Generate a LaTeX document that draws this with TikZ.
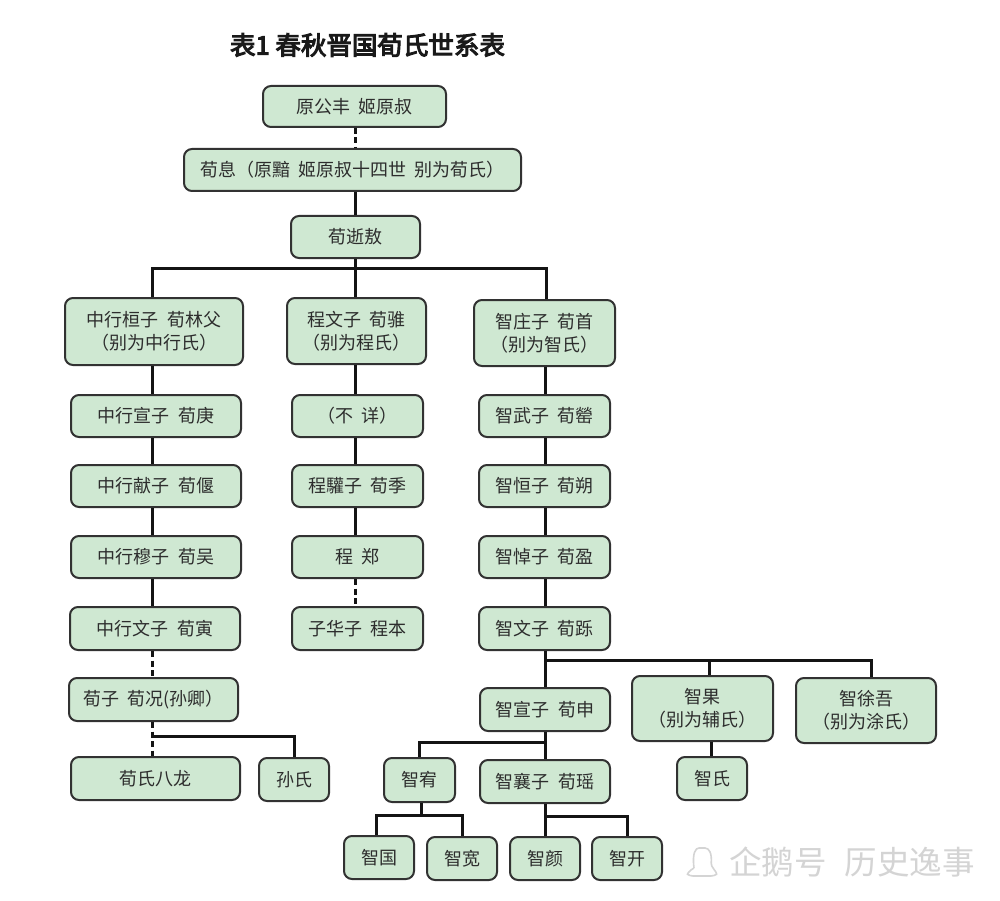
\documentclass[tikz,border=0pt]{standalone}
\usepackage{fontspec}
\newfontfamily\cjk{Noto Sans CJK SC}
\newfontfamily\cjktitle[FakeBold=4]{Noto Sans CJK SC}
\newcommand{\jgap}{\hspace{0.45em}}
\definecolor{boxfill}{RGB}{207,232,210}
\definecolor{boxline}{RGB}{50,50,50}
\definecolor{txt}{RGB}{45,45,45}
\definecolor{wmgray}{RGB}{212,212,212}
\tikzset{
  fam/.style={draw=boxline, fill=boxfill, line width=2pt, rounded corners=8pt,
    text=txt, font=\cjk\fontsize{18}{23}\selectfont, align=center, inner sep=0pt},
  link/.style={draw=black!92, line width=3pt},
  dlink/.style={link, dash pattern=on 6pt off 3.5pt},
}
\begin{document}
\begin{tikzpicture}[x=1pt,y=-1pt]
\useasboundingbox (0,0) rectangle (1000,901);
\fill[white] (0,0) rectangle (1000,901);

\node[font=\cjktitle\fontsize{25.5}{30}\selectfont, text=black!90] (title) at (367.5,45) {表1 春秋晋国荀氏世系表};

% top chain
\node[fam, minimum width=183pt, minimum height=41pt] (a1) at (354.5,106.5) {原公丰\jgap 姬原叔};
\node[fam, minimum width=337pt, minimum height=42pt] (a2) at (352.5,170) {荀息（原黯\jgap 姬原叔十四世\jgap 别为荀氏）};
\node[fam, minimum width=129pt, minimum height=42pt] (a3) at (355.5,237) {荀逝敖};

% generation 1
\node[fam, minimum width=178pt, minimum height=67pt] (b1) at (154,331.5) {中行桓子\jgap 荀林父\\（别为中行氏）};
\node[fam, minimum width=139pt, minimum height=66pt] (c1) at (356.5,331) {程文子\jgap 荀骓\\（别为程氏）};
\node[fam, minimum width=141pt, minimum height=66pt] (d1) at (544.5,333) {智庄子\jgap 荀首\\（别为智氏）};

% Zhonghang line
\node[fam, minimum width=170pt, minimum height=42pt] (b2) at (156,416) {中行宣子\jgap 荀庚};
\node[fam, minimum width=170pt, minimum height=42pt] (b3) at (156,486) {中行献子\jgap 荀偃};
\node[fam, minimum width=170pt, minimum height=42pt] (b4) at (156,557) {中行穆子\jgap 荀吴};
\node[fam, minimum width=170pt, minimum height=43pt] (b5) at (155,628.5) {中行文子\jgap 荀寅};
\node[fam, minimum width=169pt, minimum height=43pt] (b6) at (153.5,699.5) {荀子\jgap 荀况(孙卿）};
\node[fam, minimum width=169pt, minimum height=43pt] (b7) at (155.5,778.5) {荀氏八龙};
\node[fam, minimum width=70pt, minimum height=43pt] (b8) at (294,779.5) {孙氏};

% Cheng line
\node[fam, minimum width=131pt, minimum height=42pt] (c2) at (357.5,416) {（不\jgap 详）};
\node[fam, minimum width=131pt, minimum height=42pt] (c3) at (357.5,486) {程驩子\jgap 荀季};
\node[fam, minimum width=131pt, minimum height=42pt] (c4) at (357.5,557) {程\jgap 郑};
\node[fam, minimum width=131pt, minimum height=43pt] (c5) at (357.5,628.5) {子华子\jgap 程本};

% Zhi line
\node[fam, minimum width=131pt, minimum height=42pt] (d2) at (544.5,416) {智武子\jgap 荀罃};
\node[fam, minimum width=131pt, minimum height=42pt] (d3) at (544.5,486) {智恒子\jgap 荀朔};
\node[fam, minimum width=131pt, minimum height=42pt] (d4) at (544.5,557) {智悼子\jgap 荀盈};
\node[fam, minimum width=131pt, minimum height=43pt] (d5) at (544.5,628.5) {智文子\jgap 荀跞};
\node[fam, minimum width=130pt, minimum height=43pt] (d6) at (545,709.5) {智宣子\jgap 荀申};
\node[fam, minimum width=141pt, minimum height=65pt] (d7) at (702.5,708.5) {智果\\（别为辅氏）};
\node[fam, minimum width=140pt, minimum height=65pt] (d8) at (866,710.5) {智徐吾\\（别为涂氏）};
\node[fam, minimum width=71pt, minimum height=44pt] (d9) at (419.5,780) {智宥};
\node[fam, minimum width=130pt, minimum height=43pt] (d10) at (545,781.5) {智襄子\jgap 荀瑶};
\node[fam, minimum width=70pt, minimum height=43pt] (d11) at (712,778.5) {智氏};
\node[fam, minimum width=70pt, minimum height=43pt] (d12) at (379,857.5) {智国};
\node[fam, minimum width=70pt, minimum height=43pt] (d13) at (462,858.5) {智宽};
\node[fam, minimum width=70pt, minimum height=43pt] (d14) at (545,858.5) {智颜};
\node[fam, minimum width=70pt, minimum height=43pt] (d15) at (627,858.5) {智开};

% junction coordinates
\coordinate (j1) at (355,268);
\coordinate (j6) at (152,736);
\coordinate (j5) at (545,660);
\coordinate (jd6) at (545,742);
\coordinate (jd9) at (421,815);
\coordinate (jd10) at (545,816);

% connectors
\draw[dlink] (a1.south -| j1) -- (j1 |- a2.north);
\draw[link] (a2.south -| j1) -- (j1 |- a3.north);
\draw[link] (a3.south -| j1) -- (j1);
\draw[link] ([xshift=-2pt]b1.north) |- (j1);
\draw[link] ([xshift=1.5pt]d1.north) |- (j1);
\draw[link] (j1) -- (j1 |- c1.north);

\draw[link] ([xshift=-2pt]b1.south) -- ([xshift=-2pt]b1.south |- b2.north);
\draw[link] ([xshift=-2pt]b1.south |- b2.south) -- ([xshift=-2pt]b1.south |- b3.north);
\draw[link] ([xshift=-2pt]b1.south |- b3.south) -- ([xshift=-2pt]b1.south |- b4.north);
\draw[link] ([xshift=-2pt]b1.south |- b4.south) -- ([xshift=-2pt]b1.south |- b5.north);
\draw[dlink] (b5.south -| j6) -- (j6 |- b6.north);
\draw[dlink] (b6.south -| j6) -- (j6 |- b7.north);
\draw[link] (j6) -| (b8.north);

\draw[link] (c1.south -| j1) -- (j1 |- c2.north);
\draw[link] (c2.south -| j1) -- (j1 |- c3.north);
\draw[link] (c3.south -| j1) -- (j1 |- c4.north);
\draw[dlink] (c4.south -| j1) -- (j1 |- c5.north);

\draw[link] (d1.south -| j5) -- (j5 |- d2.north);
\draw[link] (d2.south -| j5) -- (j5 |- d3.north);
\draw[link] (d3.south -| j5) -- (j5 |- d4.north);
\draw[link] (d4.south -| j5) -- (j5 |- d5.north);
\draw[link] (d5.south -| j5) -- (j5) -- (d6.north);
\draw[link] (j5) -| ([xshift=6.5pt]d7.north);
\draw[link] (j5) -| ([xshift=5.5pt]d8.north);
\draw[link] ([xshift=8.5pt]d7.south) -- ([xshift=8.5pt]d7.south |- d11.north);
\draw[link] (d6.south) -- (d10.north);
\draw[link] (jd6) -| (d9.north);
\draw[link] (d9.south -| jd9) -- (jd9);
\draw[link] ([xshift=-3pt]d12.north) |- (jd9) -| (d13.north);
\draw[link] (d10.south) -- (d14.north);
\draw[link] (jd10) -| (d15.north);

% watermark
\draw[wmgray, line width=1.6pt, rounded corners=3pt]
  (694,868) .. controls (692,852) and (696,848) .. (702,848)
  .. controls (709,848) and (712,853) .. (711,866)
  .. controls (715,870) and (717,874) .. (714,876)
  -- (690,876) .. controls (687,874) and (690,870) .. (694,868);
\node[anchor=west, text=wmgray, font=\cjk\fontsize{32.5}{36}\selectfont, inner sep=0pt] (wm) at (729,862) {企鹅号\hspace{0.55em}历史逸事};
\end{tikzpicture}
\end{document}
